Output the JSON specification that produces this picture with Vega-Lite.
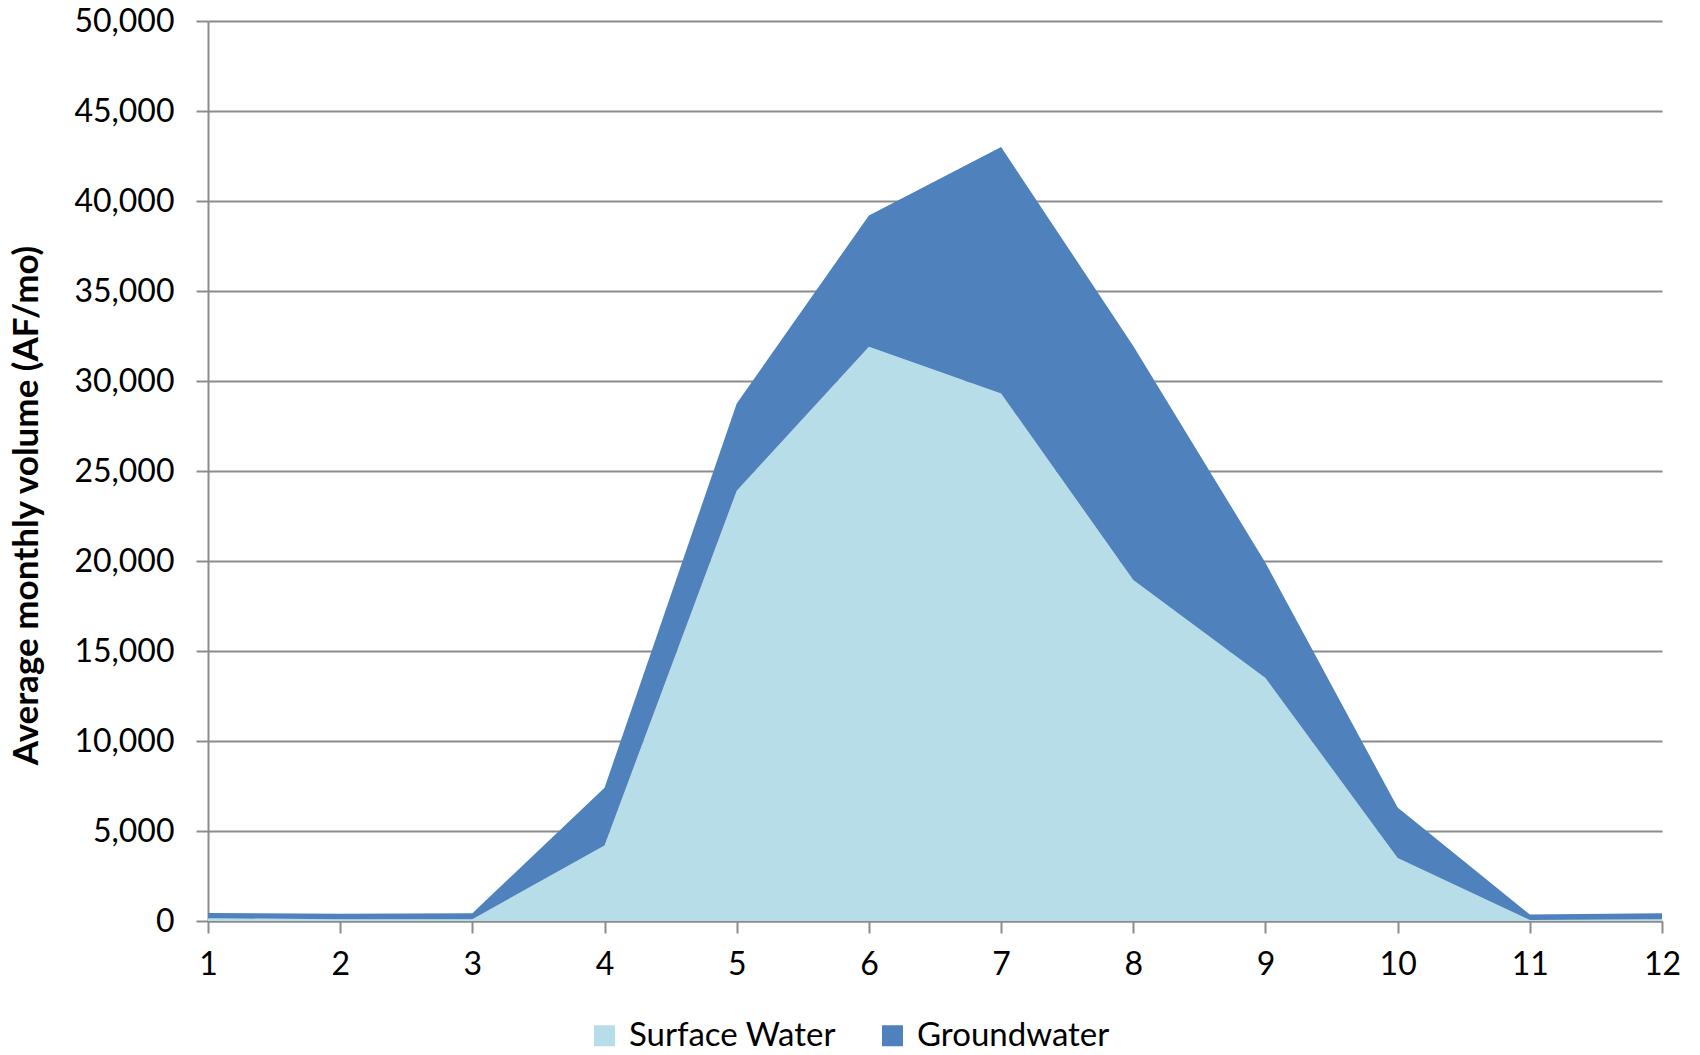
{
  "$schema": "https://vega.github.io/schema/vega-lite/v6.json",
  "autosize": {"type": "none"},
  "width": 1454,
  "height": 900,
  "padding": {"left": 208, "top": 21, "right": 38, "bottom": 134},
  "background": "white",
  "config": {
    "font": "Lato",
    "view": {"stroke": null}
  },
  "data": {
    "values": [
      {"month": 1, "type": "Surface Water", "volume": 150},
      {"month": 2, "type": "Surface Water", "volume": 100},
      {"month": 3, "type": "Surface Water", "volume": 100},
      {"month": 4, "type": "Surface Water", "volume": 4200},
      {"month": 5, "type": "Surface Water", "volume": 23900},
      {"month": 6, "type": "Surface Water", "volume": 31900},
      {"month": 7, "type": "Surface Water", "volume": 29300},
      {"month": 8, "type": "Surface Water", "volume": 18950},
      {"month": 9, "type": "Surface Water", "volume": 13500},
      {"month": 10, "type": "Surface Water", "volume": 3500},
      {"month": 11, "type": "Surface Water", "volume": 50},
      {"month": 12, "type": "Surface Water", "volume": 100},
      {"month": 1, "type": "Groundwater", "volume": 300},
      {"month": 2, "type": "Groundwater", "volume": 300},
      {"month": 3, "type": "Groundwater", "volume": 330},
      {"month": 4, "type": "Groundwater", "volume": 3200},
      {"month": 5, "type": "Groundwater", "volume": 4850},
      {"month": 6, "type": "Groundwater", "volume": 7300},
      {"month": 7, "type": "Groundwater", "volume": 13700},
      {"month": 8, "type": "Groundwater", "volume": 13000},
      {"month": 9, "type": "Groundwater", "volume": 6400},
      {"month": 10, "type": "Groundwater", "volume": 2800},
      {"month": 11, "type": "Groundwater", "volume": 310},
      {"month": 12, "type": "Groundwater", "volume": 330}
    ]
  },
  "mark": {"type": "area", "interpolate": "linear", "opacity": 1},
  "encoding": {
    "x": {
      "field": "month",
      "type": "ordinal",
      "scale": {"type": "point", "padding": 0},
      "axis": {
        "title": null,
        "labelAngle": 0,
        "labelFontSize": 32,
        "labelColor": "black",
        "labelPadding": 16,
        "tickSize": 12,
        "tickWidth": 2,
        "tickColor": "#8c8c8c",
        "domainColor": "#8c8c8c",
        "domainWidth": 2,
        "grid": false
      }
    },
    "y": {
      "field": "volume",
      "type": "quantitative",
      "stack": "zero",
      "scale": {"domain": [0, 50000], "nice": false},
      "axis": {
        "title": "Average monthly volume (AF/mo)",
        "titleFontSize": 35,
        "titleFontWeight": "bold",
        "titleColor": "black",
        "titleX": -164,
        "titleY": 484,
        "titleBaseline": "bottom",
        "titleAngle": -90,
        "titleAlign": "center",
        "values": [0, 5000, 10000, 15000, 20000, 25000, 30000, 35000, 40000, 45000, 50000],
        "format": ",.0f",
        "labelFontSize": 32,
        "labelColor": "black",
        "labelPadding": 22,
        "tickSize": 12,
        "tickWidth": 2,
        "tickColor": "#8c8c8c",
        "domainColor": "#8c8c8c",
        "domainWidth": 2,
        "grid": true,
        "gridColor": "#8c8c8c",
        "gridWidth": 2
      }
    },
    "color": {
      "field": "type",
      "type": "nominal",
      "scale": {"domain": ["Surface Water", "Groundwater"], "range": ["#B7DDE8", "#4F81BD"]},
      "legend": {
        "title": null,
        "orient": "none",
        "direction": "horizontal",
        "legendX": 380,
        "legendY": 998,
        "symbolType": "square",
        "symbolSize": 441,
        "symbolStrokeWidth": 0,
        "labelFontSize": 33,
        "labelColor": "black",
        "labelOffset": 8,
        "labelLimit": 500,
        "columnPadding": 40
      }
    },
    "order": {"field": "type", "sort": "descending"}
  }
}
